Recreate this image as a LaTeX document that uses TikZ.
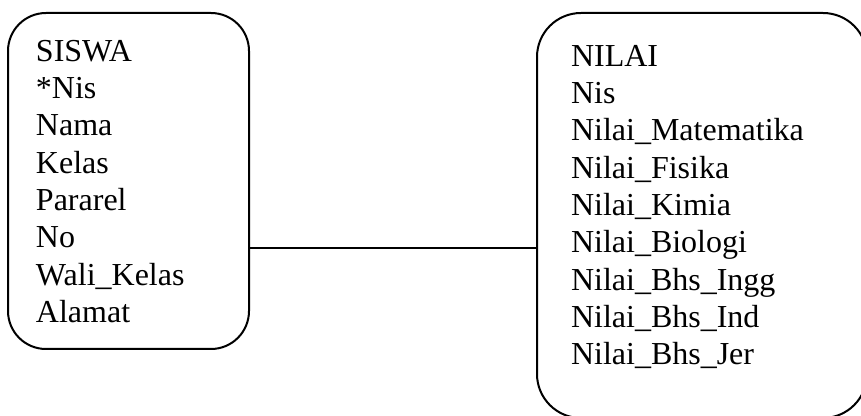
\documentclass[tikz,border=0pt]{standalone}
\usepackage{fontspec}
\setmainfont{Liberation Serif}
\usetikzlibrary{positioning, calc}

\begin{document}
\begin{tikzpicture}[x=0.75pt, y=-0.75pt,
    every node/.style={font=\fontsize{24}{28}\selectfont},
    entity/.style={draw, line width=1.5pt, inner sep=0pt, outer sep=0pt},
    fields/.style={align=left, anchor=north west, inner sep=0pt, outer sep=0pt}]
      \clip (0,0) rectangle (861,416);
      \node[entity, rounded corners=28.5pt, minimum width=180.75pt,
            minimum height=252pt] (siswa) at (128.5,181) {};
      \node[entity, rounded corners=33pt, minimum width=247.5pt,
            minimum height=303.75pt] (nilai) at (702,215.5) {};
      \node[fields] (siswaFields) at ($(siswa.north west)+(28,27)$)
            {SISWA\\{*}Nis\\Nama\\Kelas\\Pararel\\No\\Wali\_Kelas\\Alamat};
      \node[fields] (nilaiFields) at ($(nilai.north west)+(34,32)$)
            {NILAI\\Nis\\Nilai\_Matematika\\Nilai\_Fisika\\Nilai\_Kimia\\
             Nilai\_Biologi\\Nilai\_Bhs\_Ingg\\Nilai\_Bhs\_Ind\\Nilai\_Bhs\_Jer};
      \coordinate (link) at (0,248);
      \draw[line width=1.5pt] (siswa.east |- link) -- (nilai.west |- link);
    \end{tikzpicture}
\end{document}
